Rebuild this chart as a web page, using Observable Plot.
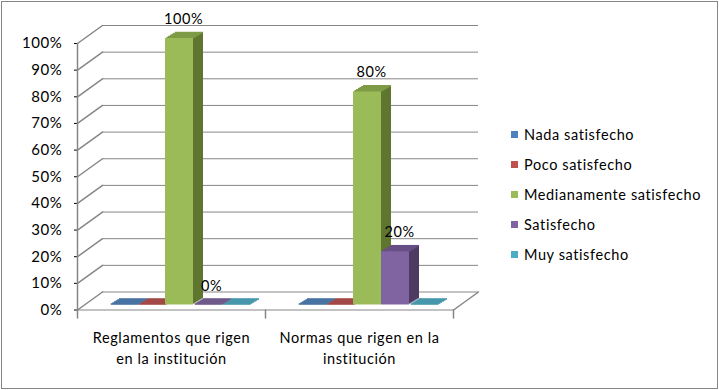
<!DOCTYPE html>
<html>
<head>
<meta charset="utf-8">
<script src="https://cdn.jsdelivr.net/npm/d3@7"></script>
<script src="https://cdn.jsdelivr.net/npm/@observablehq/plot@0.6"></script>
<style>
  html, body { margin: 0; padding: 0; background: #fff; }
  #wrap { position: relative; width: 719px; height: 390px; font-family: Lato, "Open Sans", sans-serif; }
  #border { position: absolute; left: 1px; top: 1px; width: 717px; height: 388px; box-sizing: border-box; border: 1px solid #868686; }
  #chart { position: absolute; left: 0; top: 0; }
  #legend { position: absolute; left: 511px; top: 119px; font-size: 14.5px; letter-spacing: 0.6px; color: #000; }
  #legend .item { display: flex; align-items: center; height: 30px; white-space: nowrap; }
  #legend .sw { width: 7px; height: 7px; margin-right: 6px; }
</style>
</head>
<body>
<div id="wrap"><div id="border"></div><div id="chart"></div><div id="legend"></div></div>
<script>
// ---- data ----
const categories = ["Reglamentos que rigen en la institución", "Normas que rigen en la institución"];
const categoryLabels = ["Reglamentos que rigen\nen la institución", "Normas que rigen en la\ninstitución"];
const series = ["Nada satisfecho", "Poco satisfecho", "Medianamente satisfecho", "Satisfecho", "Muy satisfecho"];
const reglamentosValues = [0, 0, 1.00, 0, 0];
const normasValues = [0, 0, 0.80, 0.20, 0];
const yTicks = [0, 0.1, 0.2, 0.3, 0.4, 0.5, 0.6, 0.7, 0.8, 0.9, 1.0];
const labelledSeries = ["Medianamente satisfecho", "Satisfecho"];

// ---- styles ----
const frontColors = ["#4F81BD", "#C0504D", "#9BBB59", "#8064A2", "#4BACC6"];
const topColors   = ["#3d689c", "#9c3e3b", "#7e9b45", "#674f85", "#3a8fa7"];
const sideColors  = ["#2c4d75", "#772c2a", "#5f7530", "#4d3b62", "#276a7c"];
const grid = "#868686";

const data = [];
categories.forEach((c, i) => {
  const vals = i === 0 ? reglamentosValues : normasValues;
  series.forEach((s, j) => data.push({category: c, series: s, value: vals[j]}));
});
const idx = s => series.indexOf(s);

const W = 719, H = 390;
const mL = 77, mR = 266, mT = 43, mB = 80.5;
const frameH = H - mT - mB;
const depth = 6, depthX = 10, lift = -5;
const backDx = 25, backDy = -18;
const wallLen = Math.hypot(backDx, backDy);
const wallRot = Math.atan2(backDx, -backDy) * 180 / Math.PI;

const marks = [];
// back wall gridlines
marks.push(Plot.ruleY(yTicks, {stroke: grid, strokeWidth: 1, dx: backDx, dy: backDy}));
// left wall diagonals
marks.push(Plot.vector(yTicks, {y: d => d, fx: () => categories[0], frameAnchor: "left", length: wallLen, rotate: wallRot, anchor: "start", shape: "spike", r: 0, stroke: grid, fill: "none"}));
// front left axis line
marks.push(Plot.vector([categories[0]], {fx: d => d, frameAnchor: "bottom-left", length: frameH, rotate: 0, anchor: "start", shape: "spike", r: 0, stroke: grid, fill: "none"}));
// floor front line
marks.push(Plot.ruleY([0], {stroke: grid}));
// floor right diagonal
marks.push(Plot.vector([categories[1]], {fx: d => d, frameAnchor: "bottom-right", length: wallLen, rotate: wallRot, anchor: "start", shape: "spike", r: 0, stroke: grid, fill: "none"}));
// category separator ticks
marks.push(Plot.vector(categories, {fx: d => d, frameAnchor: "bottom-left", length: 8, rotate: 180, anchor: "start", shape: "spike", r: 0, stroke: grid, fill: "none"}));
marks.push(Plot.vector([categories[1]], {fx: d => d, frameAnchor: "bottom-right", length: 8, rotate: 180, anchor: "start", shape: "spike", r: 0, stroke: grid, fill: "none"}));

// 3D bars: side faces (stacked offsets)
for (let k = depth; k >= 1; k--) {
  marks.push(Plot.barY(data, {fx: "category", x: "series", y: "value", fill: d => sideColors[idx(d.series)], dx: k * depthX / depth, dy: lift - k}));
}
// top faces
for (let k = 1; k <= depth; k++) {
  marks.push(Plot.tickY(data, {fx: "category", x: "series", y: "value", stroke: d => topColors[idx(d.series)], strokeWidth: 1.5, dx: k * depthX / depth, dy: lift - k}));
}
// front faces
marks.push(Plot.barY(data, {fx: "category", x: "series", y: "value", fill: d => frontColors[idx(d.series)], dy: lift}));
// value labels
marks.push(Plot.text(data.filter(d => labelledSeries.includes(d.series)), {fx: "category", x: "series", y: "value", text: d => `${Math.round(d.value * 100)}%`, dy: -24, dx: 4, fontSize: 14.5, fill: "#000"}));
// category labels
marks.push(Plot.text(categories, {fx: d => d, frameAnchor: "bottom", text: d => categoryLabels[categories.indexOf(d)], lineAnchor: "top", dy: 19, lineHeight: 1.4, fontSize: 14.5, fill: "#000"}));

const chart = Plot.plot({
  width: W, height: H,
  marginLeft: mL, marginRight: mR, marginTop: mT, marginBottom: mB,
  style: {fontFamily: "Lato, 'Open Sans', sans-serif", fontSize: "15px", letterSpacing: "0.6px", color: "#000", background: "transparent", overflow: "visible"},
  fx: {domain: categories, padding: 0, axis: null},
  x: {domain: series, paddingInner: 0, paddingOuter: 0.79, align: 0.667, axis: null},
  y: {domain: [0, 1], ticks: yTicks, tickFormat: d => `${Math.round(d * 100)}%`, tickSize: 3, tickPadding: 12, label: null},
  color: {type: "identity"},
  marks
});
document.getElementById("chart").appendChild(chart);

// legend
const legend = document.getElementById("legend");
series.forEach((s, j) => {
  const item = document.createElement("div");
  item.className = "item";
  const sw = document.createElement("span");
  sw.className = "sw";
  sw.style.background = frontColors[j];
  const t = document.createElement("span");
  t.textContent = s;
  item.appendChild(sw); item.appendChild(t);
  legend.appendChild(item);
});
</script>
</body>
</html>
